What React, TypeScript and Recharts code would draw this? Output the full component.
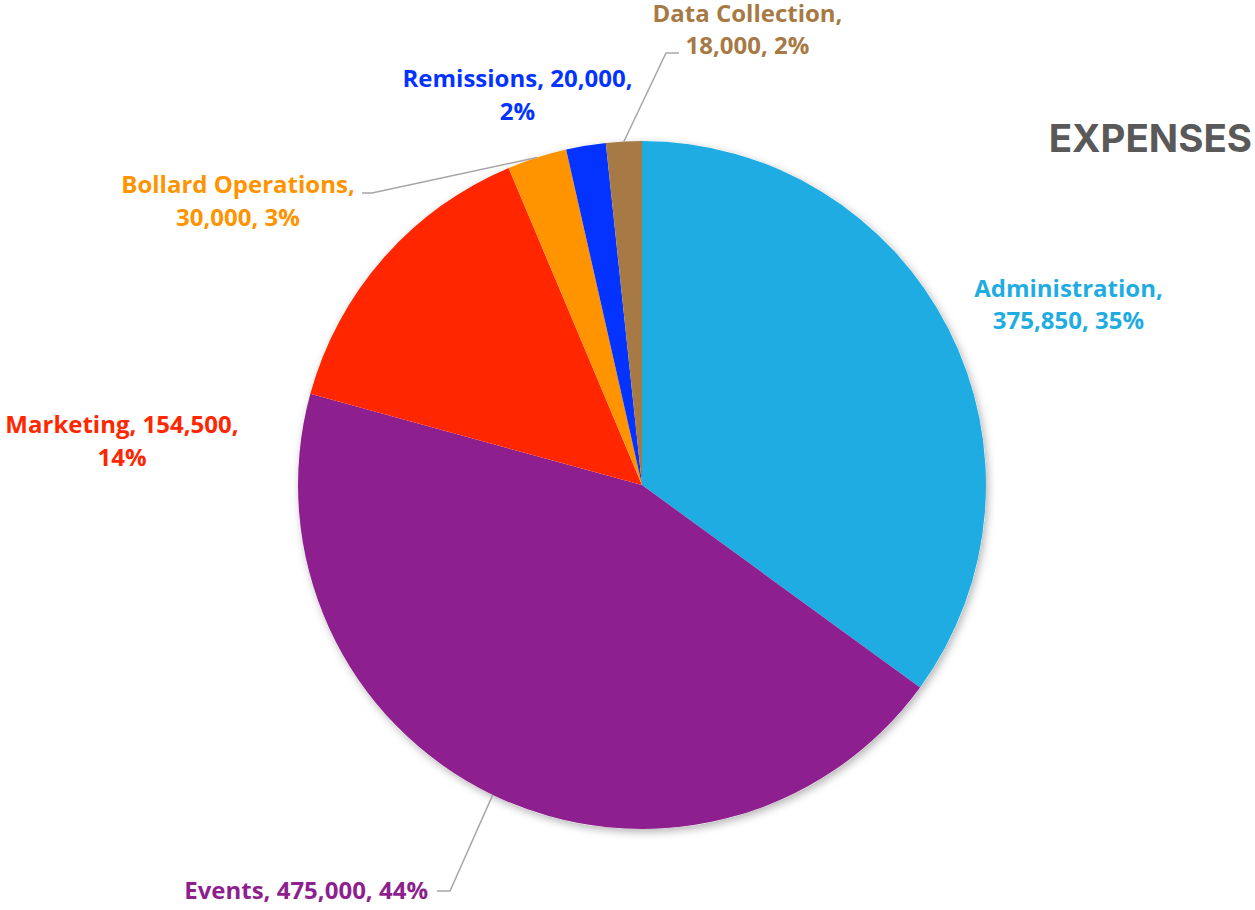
import React from "react";
import { PieChart, Pie, Cell } from "recharts";

// expense categories, clockwise from 12 o'clock
const categories = [
  "Administration",
  "Events",
  "Marketing",
  "Bollard Operations",
  "Remissions",
  "Data Collection",
];
const amounts = [375850, 475000, 154500, 30000, 20000, 18000];
const sliceColors = ["#1FACE3", "#8E1F8E", "#FF2600", "#FF9300", "#0433FF", "#A77A45"];

const data = categories.map((name, i) => ({ name, value: amounts[i] }));

// manual label placement (offsets from the pie centre), like the hand-moved Excel labels
// parts = how many comma-separated pieces go on the first line
const labelLayout = [
  { x: 426.5, y: -188.3, anchor: "middle", parts: 1 },
  { x: -214, y: 414, anchor: "end", parts: 3, elbow: [-192, 406], end: [-205, 406] },
  { x: -520, y: -51.7, anchor: "middle", parts: 2 },
  { x: -404, y: -291.7, anchor: "middle", parts: 1, elbow: [-270, -292], end: [-280, -292] },
  { x: -124.5, y: -397.7, anchor: "middle", parts: 2 },
  { x: 105.5, y: -463.5, anchor: "middle", parts: 1, elbow: [24, -432], end: [37, -432] },
];

const FONT = "'Open Sans', Inter, 'Liberation Sans', Arial, sans-serif";
const TITLE_FONT = "Inter, Roboto, 'Liberation Sans', Arial, sans-serif";
const RAD = Math.PI / 180;

const renderLabel = (props: any) => {
  const { cx, cy, midAngle, outerRadius, index, name, value, percent } = props;
  const cfg = labelLayout[index];
  const pieces = [name, value.toLocaleString("en-US"), `${Math.round(percent * 100)}%`];
  const line1 = pieces.slice(0, cfg.parts).join(", ") + (cfg.parts < 3 ? "," : "");
  const line2 = pieces.slice(cfg.parts).join(", ");

  let leader = null;
  if (cfg.elbow) {
    const sx = cx + outerRadius * Math.cos(-midAngle * RAD);
    const sy = cy + outerRadius * Math.sin(-midAngle * RAD);
    const pts = [
      [sx, sy],
      [cx + cfg.elbow[0], cy + cfg.elbow[1]],
      [cx + cfg.end[0], cy + cfg.end[1]],
    ];
    leader = (
      <polyline
        points={pts.map((p) => p.join(",")).join(" ")}
        fill="none"
        stroke="#A6A6A6"
        strokeWidth={1.5}
      />
    );
  }

  return (
    <g>
      {leader}
      <text
        x={cx + cfg.x}
        y={cy + cfg.y}
        textAnchor={cfg.anchor}
        fill={sliceColors[index]}
        fontFamily={FONT}
        fontWeight={700}
        fontSize={24}
      >
        <tspan x={cx + cfg.x}>{line1}</tspan>
        {line2 && (
          <tspan x={cx + cfg.x} dy={32.6}>
            {line2}
          </tspan>
        )}
      </text>
    </g>
  );
};

export default function App() {
  return (
    <div style={{ position: "absolute", left: 0, top: 0, width: 1255, height: 910, background: "#fff" }}>
      <svg width={0} height={0} style={{ position: "absolute" }}>
        <defs>
          <filter id="pieShadow" x="-10%" y="-10%" width="120%" height="120%">
            <feDropShadow dx={2} dy={3} stdDeviation={4} floodColor="#000" floodOpacity={0.3} />
          </filter>
        </defs>
      </svg>
      <PieChart width={1255} height={910} margin={{ top: 0, right: 0, bottom: 0, left: 0 }}>
        {/* plain disc underneath, only there to cast the soft shadow */}
        <Pie
          data={[{ name: "base", value: 1 }]}
          dataKey="value"
          cx={642}
          cy={485}
          outerRadius={344}
          startAngle={90}
          endAngle={-270}
          stroke="none"
          isAnimationActive={false}
        >
          <Cell fill="#fff" filter="url(#pieShadow)" />
        </Pie>
        <Pie
          data={data}
          dataKey="value"
          nameKey="name"
          cx={642}
          cy={485}
          outerRadius={344}
          startAngle={90}
          endAngle={-270}
          stroke="none"
          label={renderLabel}
          labelLine={false}
          isAnimationActive={false}
        >
          {data.map((d, i) => (
            <Cell key={d.name} fill={sliceColors[i]} />
          ))}
        </Pie>
        <text
          x={1252}
          y={152}
          textAnchor="end"
          fill="#595959"
          fontFamily={TITLE_FONT}
          fontWeight={700}
          fontSize={38.5}
        >
          EXPENSES
        </text>
      </PieChart>
    </div>
  );
}
